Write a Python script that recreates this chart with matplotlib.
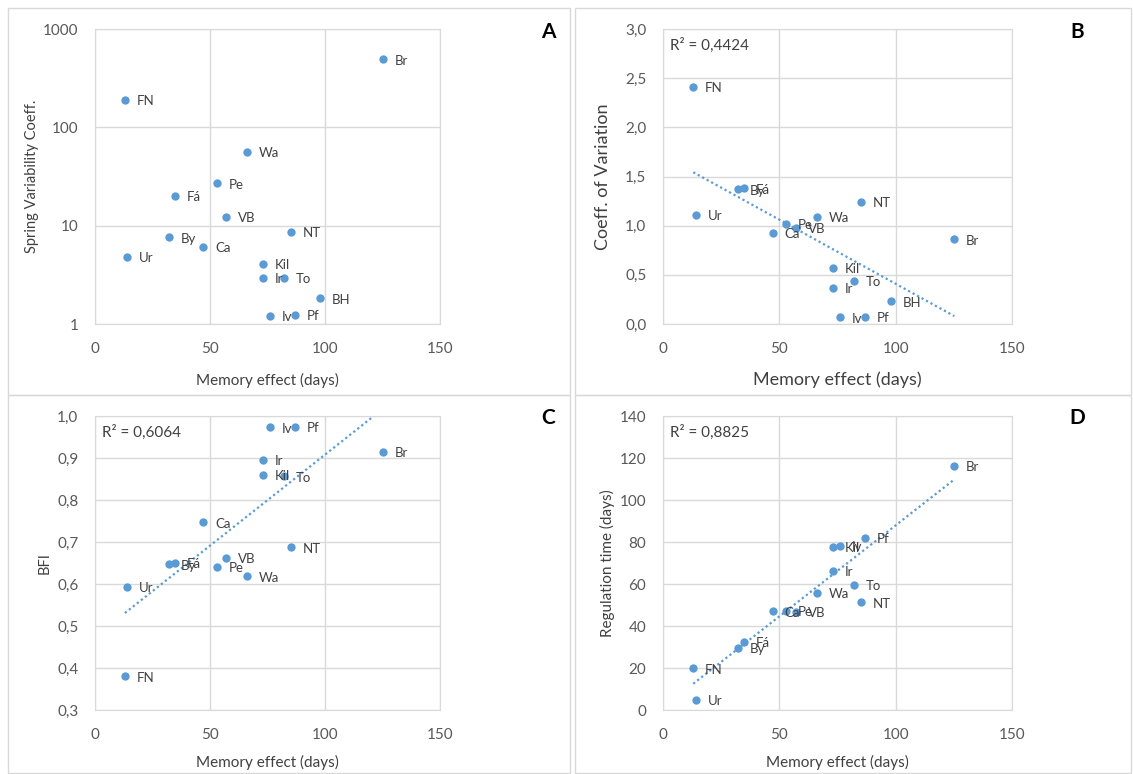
import numpy as np
import matplotlib.pyplot as plt
from matplotlib.patches import Rectangle
from matplotlib.ticker import FixedLocator, NullLocator, FuncFormatter

plt.rcParams['font.family'] = ['Lato', 'DejaVu Sans']

# station codes and their memory effect (days)
stations = ['FN', 'Ur', 'By', 'Fá', 'Ca', 'Pe', 'VB', 'Wa', 'Kil', 'Ir',
            'Iv', 'To', 'NT', 'Pf', 'BH', 'Br']
memory = [13.0, 14.0, 32.1, 34.9, 47.1, 53.0, 57.1, 66.1, 73.1, 73.1,
          76.1, 82.0, 85.2, 87.0, 98.0, 125.2]

# y values per panel (nan = station not shown)
spring_var = [190, 4.8, 7.6, 20.2, 6.1, 27, 12.3, 56, 4.1, 2.95,
              1.21, 2.95, 8.6, 1.24, 1.82, 494]
coeff_var = [2.41, 1.11, 1.37, 1.38, 0.93, 1.02, 0.98, 1.09, 0.57, 0.37,
             0.07, 0.44, 1.24, 0.075, 0.23, 0.86]
bfi = [0.38, 0.593, 0.647, 0.651, 0.747, 0.641, 0.663, 0.618, 0.860, 0.895,
       0.973, 0.856, 0.687, 0.975, np.nan, 0.915]
reg_time = [19.8, 4.8, 29.6, 32.5, 47.0, 47.2, 46.9, 55.9, 77.8, 66.4,
            78.2, 59.7, 51.3, 82.0, np.nan, 116.2]

r2_text = {'B': 'R² = 0,4424', 'C': 'R² = 0,6064', 'D': 'R² = 0,8825'}

BLUE = '#5b9bd5'
GRID = '#d9d9d9'
TXT = '#404040'
TICK = '#595959'
W, H = 1133, 774

fig = plt.figure(figsize=(W / 100, H / 100), dpi=100)

# panel frames (pixel boxes: left, top, width, height)
for x0, y0, w, h in [(8, 8, 562, 387), (575, 8, 556, 387),
                     (8, 395, 562, 378), (575, 395, 556, 378)]:
    fig.patches.append(Rectangle((x0 / W, 1 - (y0 + h) / H), w / W, h / H,
                                 transform=fig.transFigure, fill=False,
                                 edgecolor=GRID, lw=1))


def comma(v, pos):
    return ('%.1f' % v).replace('.', ',')


def px_rect(left, top, right, bottom):
    return [left / W, 1 - bottom / H, (right - left) / W, (bottom - top) / H]


def panel(rect, yvals, letter, letter_xy, ylabel, xlab_fs, ylab_fs,
          ylab_x, xlab_y, log=False, trend=False):
    ax = fig.add_axes(rect)
    x = np.array(memory)
    y = np.array(yvals, dtype=float)
    ok = ~np.isnan(y)
    ax.scatter(x[ok], y[ok], s=36, color=BLUE, zorder=3, linewidths=0)
    for name, xi, yi in zip(np.array(stations)[ok], x[ok], y[ok]):
        ax.annotate(name, (xi, yi), xytext=(8.5, -1), textcoords='offset points',
                    va='center', ha='left', fontsize=9.5, color=TXT, zorder=4)
    if trend:
        # linear trend over the station range
        k, b = np.polyfit(x[ok], y[ok], 1)
        xs = np.array([x[ok].min(), x[ok].max()])
        ax.plot(xs, k * xs + b, ls=(0, (1, 1.3)), color=BLUE, lw=1.6, zorder=2)
        ax.text(0.02, 0.97, r2_text[letter], transform=ax.transAxes, ha='left',
                va='top', fontsize=11, color=TXT)
    ax.set_xlim(0, 150)
    ax.set_xticks([0, 50, 100, 150])
    for s in ax.spines.values():
        s.set_color(GRID)
    ax.grid(True, color=GRID, lw=1)
    ax.set_axisbelow(True)
    ax.tick_params(length=0, labelsize=11, labelcolor=TICK)
    ax.tick_params(axis='x', pad=13)
    ax.tick_params(axis='y', pad=12)
    ax.set_xlabel('Memory effect (days)', fontsize=xlab_fs, color=TXT, va='center')
    ax.set_ylabel(ylabel, fontsize=ylab_fs, color=TXT, va='center')
    ax.xaxis.set_label_coords(0.5, xlab_y)
    ax.yaxis.set_label_coords(ylab_x, 0.5)
    fig.text(letter_xy[0] / W, 1 - letter_xy[1] / H, letter, fontsize=15,
             fontweight='bold', ha='center', va='center', color='black')
    if log:
        ax.set_yscale('log')
        ax.set_ylim(1, 1000)
        ax.yaxis.set_major_locator(FixedLocator([1, 10, 100, 1000]))
        ax.yaxis.set_minor_locator(NullLocator())
        ax.yaxis.set_major_formatter(FuncFormatter(lambda v, p: '%d' % v))
    return ax


axA = panel(px_rect(95, 29, 440, 324), spring_var, 'A', (548, 32),
            'Spring Variability Coeff.', 11, 10.5, -0.183, -0.193, log=True)

axB = panel(px_rect(663, 29, 1012, 324), coeff_var, 'B', (1077, 32),
            'Coeff. of Variation', 13, 13, -0.172, -0.190, trend=True)
axB.set_ylim(0, 3.0)
axB.set_yticks(np.arange(0, 3.01, 0.5))
axB.yaxis.set_major_formatter(FuncFormatter(comma))

axC = panel(px_rect(95, 416, 440, 710), bfi, 'C', (548, 418),
            'BFI', 11, 10.5, -0.145, -0.177, trend=True)
axC.set_ylim(0.3, 1.0)
axC.set_yticks(np.arange(0.3, 1.01, 0.1))
axC.yaxis.set_major_formatter(FuncFormatter(comma))

axD = panel(px_rect(663, 416, 1012, 710), reg_time, 'D', (1077, 418),
            'Regulation time (days)', 11, 11, -0.160, -0.177, trend=True)
axD.set_ylim(0, 140)
axD.set_yticks(range(0, 141, 20))

fig.savefig('out.png', dpi=100)
